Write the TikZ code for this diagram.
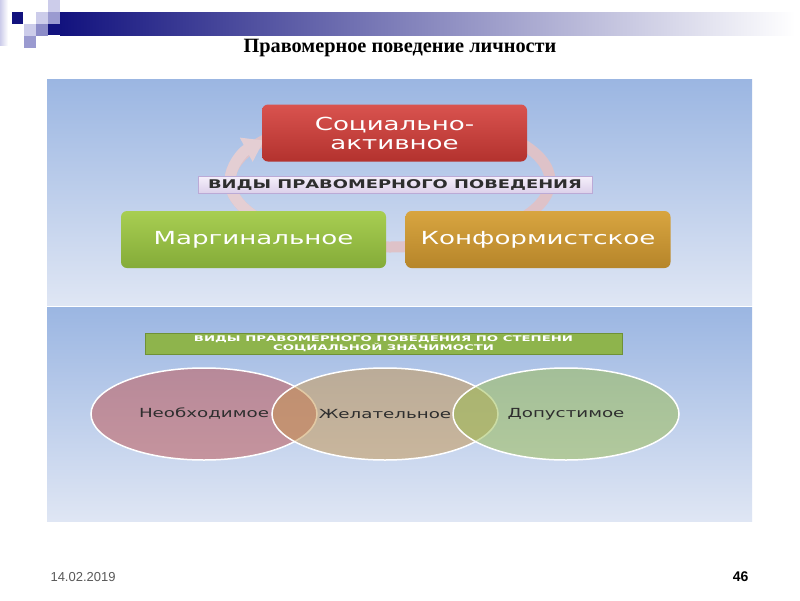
\documentclass[tikz,border=0pt]{standalone}
\usepackage{fontspec}
\usepackage{graphicx}
\setmainfont{Liberation Serif}
\newfontfamily\dv{DejaVu Sans}
\newfontfamily\arl{Liberation Sans}
\usetikzlibrary{shapes.geometric,arrows.meta}
\definecolor{navy}{HTML}{12127E}
\definecolor{lav}{HTML}{CCCCEA}
\definecolor{lavm}{HTML}{9A9AD0}
\definecolor{lavd}{HTML}{8C8CC8}
\definecolor{bgtop}{HTML}{9BB6E2}
\definecolor{bgbot}{HTML}{DFE6F4}
\definecolor{ringc}{HTML}{DEC2C8}
\definecolor{redt}{HTML}{D9534F}
\definecolor{redb}{HTML}{B3322E}
\definecolor{grnt}{HTML}{A8CE52}
\definecolor{grnb}{HTML}{84AB38}
\definecolor{orgt}{HTML}{D8A540}
\definecolor{orgb}{HTML}{B6852A}
\definecolor{lbtop}{HTML}{F6F0FB}
\definecolor{lbbot}{HTML}{DCD0EA}
\definecolor{lbdraw}{HTML}{BBAAD6}
\definecolor{barfill}{HTML}{8EB44C}
\definecolor{bardraw}{HTML}{6F9136}
\definecolor{vred}{HTML}{C0504D}
\definecolor{vgold}{HTML}{C7954B}
\definecolor{vgrn}{HTML}{99BB4B}
\definecolor{txtd}{HTML}{2E2E2E}
\newcommand{\sx}[2]{\scalebox{#1}[1]{#2}}
\tikzset{
  boxstyle/.style={rounded corners=6pt, minimum width=265pt, minimum height=57pt,
    inner sep=0pt, text=white, align=center,
    font=\dv\fontsize{18}{18}\selectfont},
  vennstyle/.style={ellipse, minimum width=226pt, minimum height=92pt, inner sep=0pt,
    draw=white, line width=1.5pt, fill opacity=0.5, text opacity=1, text=txtd,
    font=\dv\fontsize{12.5}{14}\selectfont},
}
\begin{document}
\begin{tikzpicture}[x=1pt,y=-1pt]
\useasboundingbox (0,0) rectangle (800,600);
\fill[white] (0,0) rectangle (800,600);
% header decoration
\shade[left color=lav, right color=white] (0,0) rectangle (8,45);
\shade[left color=navy, right color=white] (60,12) rectangle (795,35);
\fill[navy] (48,24) rectangle (60,35);
\fill[navy] (12,12) rectangle (23,24);
\fill[lav] (36,12) rectangle (48,24);
\fill[lav] (48,0) rectangle (60,12);
\fill[lavm] (48,12) rectangle (60,24);
\fill[lav] (24,24) rectangle (36,36);
\fill[lavd] (36,24) rectangle (48,36);
\fill[lavm] (24,36) rectangle (36,48);
% title
\node (title) at (400,48) {\fontsize{20.3}{22}\selectfont\bfseries Правомерное поведение личности};
% panels
\shade[top color=bgtop, bottom color=bgbot] (47,79) rectangle (752,305);
\shade[top color=bgtop, bottom color=bgbot] (47,307) rectangle (752,521);
% ring
\draw[ringc, line width=11pt] (390,181) ellipse [x radius=160, y radius=66];
\draw[ringc!80!white, line width=11pt, -{Triangle[width=26pt,length=20pt]}]
  (310,238.2) arc[start angle=120, end angle=218, x radius=160, y radius=66];
% boxes
\node[boxstyle, top color=redt, bottom color=redb] (sa) at (394.5,133)
  {\sx{1.45}{Социально-}\\[1pt]\sx{1.45}{активное}};
\node[boxstyle, top color=grnt, bottom color=grnb] (mg) at (253.5,239.5)
  {\sx{1.45}{Маргинальное}};
\node[boxstyle, top color=orgt, bottom color=orgb] (kf) at (538,239.5)
  {\sx{1.45}{Конформистское}};
\node[top color=lbtop, bottom color=lbbot, draw=lbdraw, line width=0.8pt,
  minimum width=394pt, minimum height=17pt, inner sep=0pt, text=txtd,
  font=\dv\bfseries\fontsize{12}{12}\selectfont] (lbl) at (395,184.5)
  {\sx{1.49}{ВИДЫ ПРАВОМЕРНОГО ПОВЕДЕНИЯ}};
% lower part
\node[fill=barfill, draw=bardraw, line width=1pt, minimum width=477pt,
  minimum height=21pt, inner sep=0pt, text=white, align=center,
  font=\dv\bfseries\fontsize{7.8}{8.6}\selectfont] (lbar) at (383.5,344)
  {\sx{1.7}{ВИДЫ ПРАВОМЕРНОГО ПОВЕДЕНИЯ ПО СТЕПЕНИ}\\\sx{1.7}{СОЦИАЛЬНОЙ ЗНАЧИМОСТИ}};
\node[vennstyle, fill=vred] (e1) at (204,414) {\sx{1.46}{Необходимое}};
\node[vennstyle, fill=vgold] (e2) at (385,414) {\sx{1.46}{Желательное}};
\node[vennstyle, fill=vgrn] (e3) at (566,414) {\sx{1.46}{Допустимое}};
% footer
\node[anchor=west, text=black!65, font=\arl\fontsize{13}{14}\selectfont] (date) at (47,577) {14.02.2019};
\node[anchor=east, font=\arl\bfseries\fontsize{14}{16}\selectfont] (pg) at (752,577) {46};
\end{tikzpicture}
\end{document}
